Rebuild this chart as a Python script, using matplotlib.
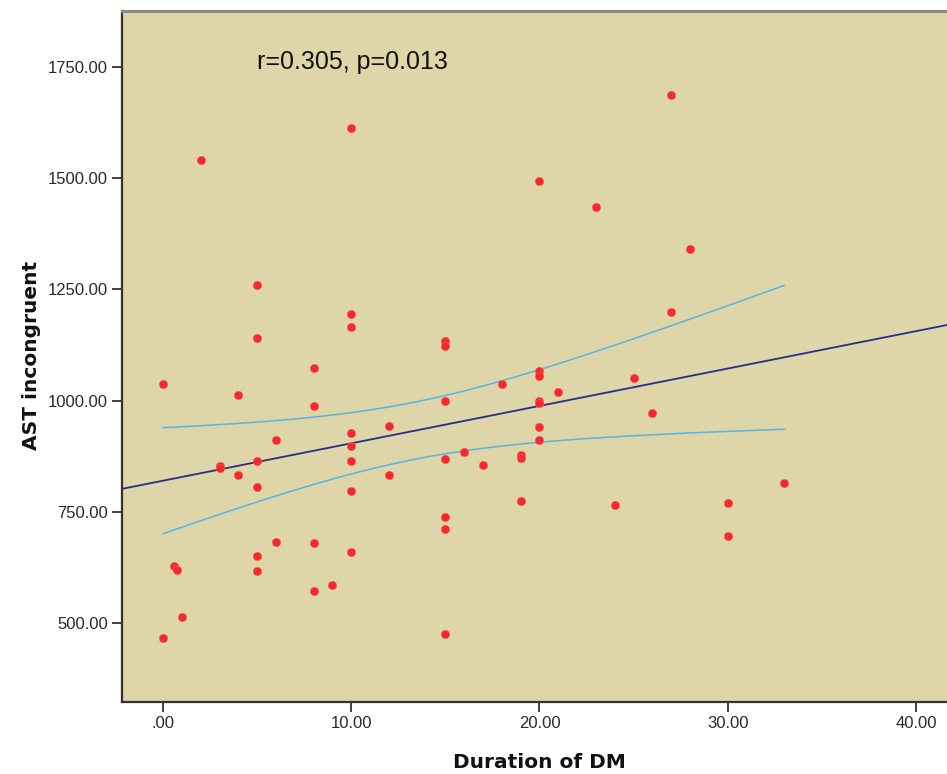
import numpy as np
import matplotlib
matplotlib.use("Agg")
import matplotlib.pyplot as plt
from matplotlib.ticker import FixedLocator

# ---- data ----
duration = [2, 10, 5, 10, 10, 5, 15, 15, 8, 0, 4,
            27, 20, 23, 28, 27, 20, 20, 18, 25, 21, 20, 20,
            15, 8, 12, 10, 6, 10, 16, 15, 10, 5, 3, 3, 4, 12, 5, 10,
            15, 15, 6, 8, 10, 5, 0.57, 0.72, 5, 9, 8, 1, 15, 0, 17,
            26, 20, 20, 19, 19, 33, 19, 24, 30, 30]
ast_incongruent = [1541, 1614, 1261, 1195, 1166, 1140, 1135, 1122, 1074, 1037, 1013,
                   1688, 1494, 1436, 1341, 1200, 1067, 1055, 1037, 1050, 1019, 1000, 994,
                   1000, 987, 943, 926, 911, 898, 884, 868, 864, 863, 853, 849, 833, 833, 806, 797,
                   737, 711, 681, 679, 659, 650, 628, 618, 616, 584, 572, 514, 475, 465, 854,
                   973, 940, 911, 878, 870, 815, 774, 764, 770, 695]

x_ticks = [0, 10, 20, 30, 40]
x_tick_labels = [".00", "10.00", "20.00", "30.00", "40.00"]
y_ticks = [500, 750, 1000, 1250, 1500, 1750]
y_tick_labels = ["500.00", "750.00", "1000.00", "1250.00", "1500.00", "1750.00"]
annotation = "r=0.305, p=0.013"

x = np.array(duration, dtype=float)
y = np.array(ast_incongruent, dtype=float)

# linear fit and 95% CI of the mean
n = len(x)
slope, intercept = np.polyfit(x, y, 1)
resid = y - (intercept + slope * x)
s = np.sqrt(np.sum(resid ** 2) / (n - 2))
sxx = np.sum((x - x.mean()) ** 2)
t_crit = 1.998
xs = np.linspace(x.min(), x.max(), 100)
se = s * np.sqrt(1.0 / n + (xs - x.mean()) ** 2 / sxx)
fit_ci = intercept + slope * xs

bg = "#DED5A8"
fig = plt.figure(figsize=(9.47, 7.74), dpi=100)
ax = fig.add_axes([122 / 947, 1 - 702 / 774, 1 - 122 / 947, (702 - 11) / 774])
ax.set_facecolor(bg)

xlim = (-2.18, 41.65)
ax.set_xlim(*xlim)
ax.set_ylim(321.6, 1876.7)

xl = np.array(xlim)
ax.plot(xl, intercept + slope * xl, color="#262E86", lw=1.3, zorder=2)
ax.plot(xs, fit_ci + t_crit * se, color="#5AB4E2", lw=1.1, zorder=2)
ax.plot(xs, fit_ci - t_crit * se, color="#5AB4E2", lw=1.1, zorder=2)

ax.scatter(x, y, s=36, color="#F5282B", edgecolors="#F06060", linewidths=0.4, zorder=3)

fig.text(257 / 947, 1 - 62 / 774, annotation, fontsize=18, family="Liberation Sans",
         color="#111111", va="center", ha="left")

ax.xaxis.set_major_locator(FixedLocator(x_ticks))
ax.set_xticklabels(x_tick_labels)
ax.yaxis.set_major_locator(FixedLocator(y_ticks))
ax.set_yticklabels(y_tick_labels)
ax.tick_params(axis="both", direction="out", length=7, width=1.3, color="#333333",
               labelsize=12, labelcolor="#2a2a2a")
for lab in ax.get_xticklabels() + ax.get_yticklabels():
    lab.set_family("Liberation Sans")
ax.tick_params(axis="x", pad=3)
ax.tick_params(axis="y", pad=3)

for side in ["left", "bottom"]:
    ax.spines[side].set_color("#333333")
    ax.spines[side].set_linewidth(1.6)
ax.spines["top"].set_color("#8A8A8A")
ax.spines["top"].set_linewidth(2.2)
ax.spines["right"].set_visible(False)

fig.text(539 / 947, 1 - 762 / 774, "Duration of DM", fontsize=14.5, fontweight="bold",
         family="DejaVu Sans", ha="center", va="center", color="#111111")
fig.text(32 / 947, 1 - 355 / 774, "AST incongruent", fontsize=14.5, fontweight="bold",
         family="DejaVu Sans", ha="center", va="center", rotation=90, color="#111111")

fig.savefig("out.png", dpi=100, facecolor="white")
